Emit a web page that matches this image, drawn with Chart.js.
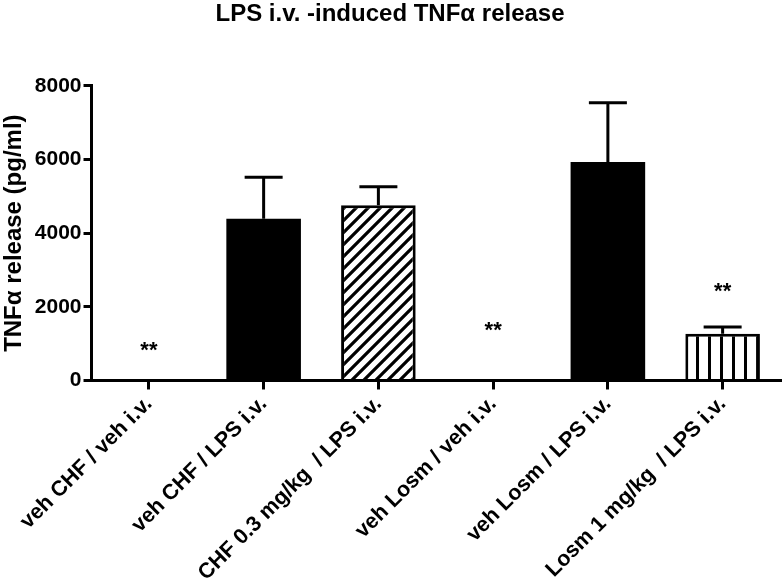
<!DOCTYPE html>
<html lang="en">
<head>
  <meta charset="UTF-8" />
  <title>LPS i.v. -induced TNFα release</title>
  <script src="https://cdn.jsdelivr.net/npm/chart.js"></script>
  <style>
    html, body { margin: 0; padding: 0; background: #fff; }
    #wrap { width: 782px; height: 588px; }
  </style>
</head>
<body>
  <div id="wrap"><canvas id="chart" width="782" height="588"></canvas></div>

  <script>
    const groups = ["veh CHF / veh i.v.", "veh CHF / LPS i.v.", "CHF 0.3 mg/kg  / LPS i.v.", "veh Losm / veh i.v.", "veh Losm / LPS i.v.", "Losm 1 mg/kg  / LPS i.v."];
    const meanValues = [0, 4390, 4760, 0, 5930, 1270];
    const semValues = [0, 1130, 500, 0, 1610, 180];
    const starLevels = [900, null, null, 1460, null, 2520];
    const yTicks = [0, 2000, 4000, 6000, 8000];
    const FONT = "'Liberation Sans', Arial, sans-serif";

    // hatch fills for the two treated groups
    function makePattern(kind) {
      const c = document.createElement("canvas");
      c.width = 12; c.height = 12;
      const g = c.getContext("2d");
      g.fillStyle = "#fff";
      g.fillRect(0, 0, 12, 12);
      g.strokeStyle = "#000";
      g.fillStyle = "#000";
      g.lineWidth = 3.2;
      if (kind === "diag") {
        g.beginPath();
        g.moveTo(-3, 15); g.lineTo(15, -3);
        g.moveTo(-9, 9); g.lineTo(9, -9);
        g.moveTo(3, 21); g.lineTo(21, 3);
        g.stroke();
      } else {
        g.fillRect(0, 0, 3, 12);
      }
      return document.getElementById("chart").getContext("2d").createPattern(c, "repeat");
    }

    const fills = ["#000", "#000", makePattern("diag"), "#000", "#000", makePattern("vert")];

    const errorBars = {
      id: "errorBars",
      afterDatasetsDraw(chart) {
        const ctx = chart.ctx;
        const meta = chart.getDatasetMeta(0);
        const y = chart.scales.y;
        ctx.save();
        ctx.strokeStyle = "#000";
        ctx.lineWidth = 3;
        meta.data.forEach((bar, i) => {
          if (!semValues[i]) return;
          const yTop = y.getPixelForValue(meanValues[i] + semValues[i]);
          const yBase = y.getPixelForValue(meanValues[i]);
          ctx.beginPath();
          ctx.moveTo(bar.x, yBase);
          ctx.lineTo(bar.x, yTop);
          ctx.moveTo(bar.x - 19, yTop);
          ctx.lineTo(bar.x + 19, yTop);
          ctx.stroke();
        });
        ctx.fillStyle = "#000";
        ctx.font = "bold 22px " + FONT;
        ctx.textAlign = "center";
        ctx.textBaseline = "middle";
        meta.data.forEach((bar, i) => {
          if (starLevels[i] == null) return;
          ctx.fillText("**", bar.x, y.getPixelForValue(starLevels[i]) + 4);
        });
        ctx.restore();
      }
    };

    new Chart(document.getElementById("chart"), {
      type: "bar",
      data: {
        labels: groups,
        datasets: [{
          data: meanValues,
          backgroundColor: fills,
          borderColor: "#000",
          borderWidth: [0, 0, 3, 0, 0, 3],
          barPercentage: 0.65,
          categoryPercentage: 1.0
        }]
      },
      options: {
        responsive: false,
        animation: false,
        layout: { padding: { top: 0, right: 2, left: 0, bottom: 0 } },
        plugins: {
          legend: { display: false },
          tooltip: { enabled: false },
          title: {
            display: true,
            text: "LPS i.v. -induced TNFα release",
            color: "#000",
            font: { family: FONT, size: 24, weight: "bold" },
            padding: { top: 0, bottom: 57 }
          }
        },
        scales: {
          x: {
            offset: true,
            border: { color: "#000", width: 3 },
            grid: { display: true, offset: false, drawOnChartArea: false, drawTicks: true, tickLength: 9, color: "#000", lineWidth: 3 },
            ticks: {
              color: "#000",
              maxRotation: 45,
              minRotation: 45,
              padding: 2,
              font: { family: FONT, size: 21.5, weight: "bold" }
            }
          },
          y: {
            min: 0,
            max: 8000,
            afterBuildTicks(scale) { scale.ticks = yTicks.map(v => ({ value: v })); },
            border: { color: "#000", width: 3 },
            grid: { display: true, drawOnChartArea: false, drawTicks: true, tickLength: 8, color: "#000", lineWidth: 3 },
            ticks: {
              color: "#000",
              padding: 2,
              callback: v => String(v),
              font: { family: FONT, size: 21, weight: "bold" }
            },
            title: {
              display: true,
              text: "TNFα release (pg/ml)",
              color: "#000",
              padding: { top: 0, bottom: 4 },
              font: { family: FONT, size: 24, weight: "bold" }
            }
          }
        }
      },
      plugins: [errorBars]
    });
  </script>
</body>
</html>
